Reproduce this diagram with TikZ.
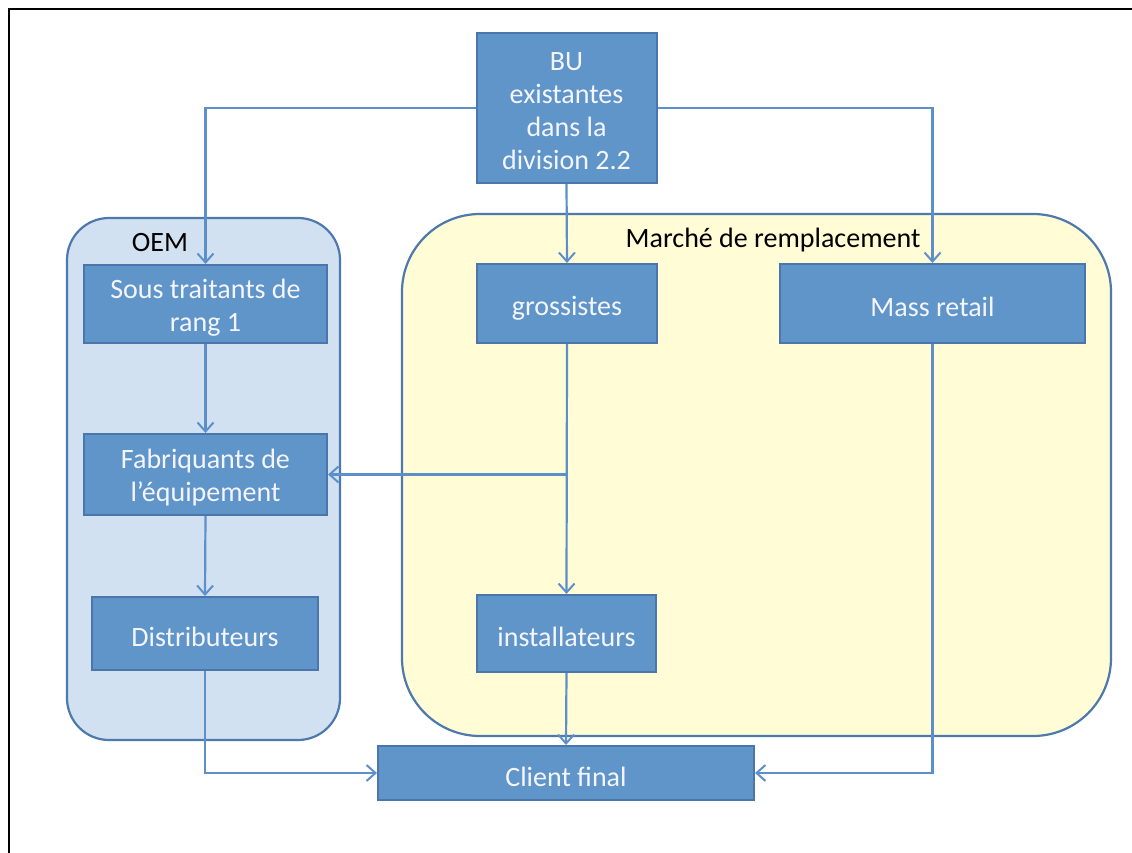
\documentclass[tikz,border=0pt]{standalone}
\usepackage{fontspec}
\setmainfont{Carlito}
\usetikzlibrary{arrows.meta}
\definecolor{boxfill}{HTML}{6095C9}
\definecolor{boxline}{HTML}{4A76AB}
\definecolor{conn}{HTML}{5D90CB}
\definecolor{oemfill}{HTML}{D2E1F2}
\definecolor{regline}{HTML}{4E79AD}
\definecolor{mrfill}{HTML}{FFFCD6}
\tikzset{
  box/.style={draw=boxline, line width=2pt, fill=boxfill, inner sep=0pt},
  boxtext/.style={text=white!96!blue, align=center, inner sep=0pt,
    font=\fontsize{28}{33}\selectfont, yshift=-3.5pt},
  region/.style={draw=regline, line width=2.2pt, inner sep=0pt},
  conn/.style={draw=conn, line width=2.2pt, -{Straight Barb[length=9pt,width=16pt,line width=2pt]}},
  lbl/.style={font=\fontsize{28}{33}\selectfont, text=black, inner sep=0pt},
}
\begin{document}
\begin{tikzpicture}[x=1pt,y=-1pt]
\useasboundingbox (0,0) rectangle (1132,853);
\fill[white] (0,0) rectangle (1132,853);
% frame
\draw[black, line width=2pt] (9,853) -- (9,9) -- (1132,9);
% regions
\node[region, fill=oemfill, rounded corners=42pt, minimum width=273pt, minimum height=522pt] (oem) at (203.5,479) {};
\node[region, fill=mrfill, rounded corners=78pt, minimum width=709pt, minimum height=522pt] (mr) at (756.5,475) {};
\node[lbl] (oeml) at (160,243) {OEM};
\node[lbl] (mrl) at (773,240) {Marché de remplacement};
% boxes
\node[box, minimum width=180pt, minimum height=150pt, label={[boxtext]center:{BU\\existantes\\dans la\\division 2.2}}] (bu) at (566.5,108) {};
\node[box, minimum width=243pt, minimum height=78pt, label={[boxtext]center:{Sous traitants de\\rang 1}}] (sous) at (205.5,304) {};
\node[box, minimum width=243pt, minimum height=81pt, label={[boxtext]center:{Fabriquants de\\l’équipement}}] (fab) at (205.5,474.5) {};
\node[box, minimum width=226pt, minimum height=73pt, label={[boxtext]center:{Distributeurs}}] (dist) at (205,633.5) {};
\node[box, minimum width=180pt, minimum height=79pt, label={[boxtext,yshift=-1.5pt]center:{grossistes}}] (gros) at (567,303.5) {};
\node[box, minimum width=305pt, minimum height=79pt, label={[boxtext]center:{Mass retail}}] (mass) at (932.5,303.5) {};
\node[box, minimum width=179pt, minimum height=77pt, label={[boxtext]center:{installateurs}}] (inst) at (566.5,633.5) {};
\node[box, minimum width=376pt, minimum height=54pt, label={[boxtext]center:{Client final}}] (client) at (566,773) {};
% connectors
\coordinate (split) at (gros.south |- fab.east);
\draw[conn] (bu.west) -| (sous.north);
\draw[conn] (bu.east) -| (mass.north);
\draw[conn] (bu.south) -- (gros.north);
\draw[conn] (gros.south) -- (inst.north);
\draw[conn] (split) -- (fab.east);
\draw[conn] (sous.south) -- (fab.north);
\draw[conn] (fab.south) -- (dist.north);
\draw[conn] (dist.south) |- (client.west);
\draw[conn] (mass.south) |- (client.east);
\draw[conn] (inst.south) -- (client.north);
\end{tikzpicture}
\end{document}
